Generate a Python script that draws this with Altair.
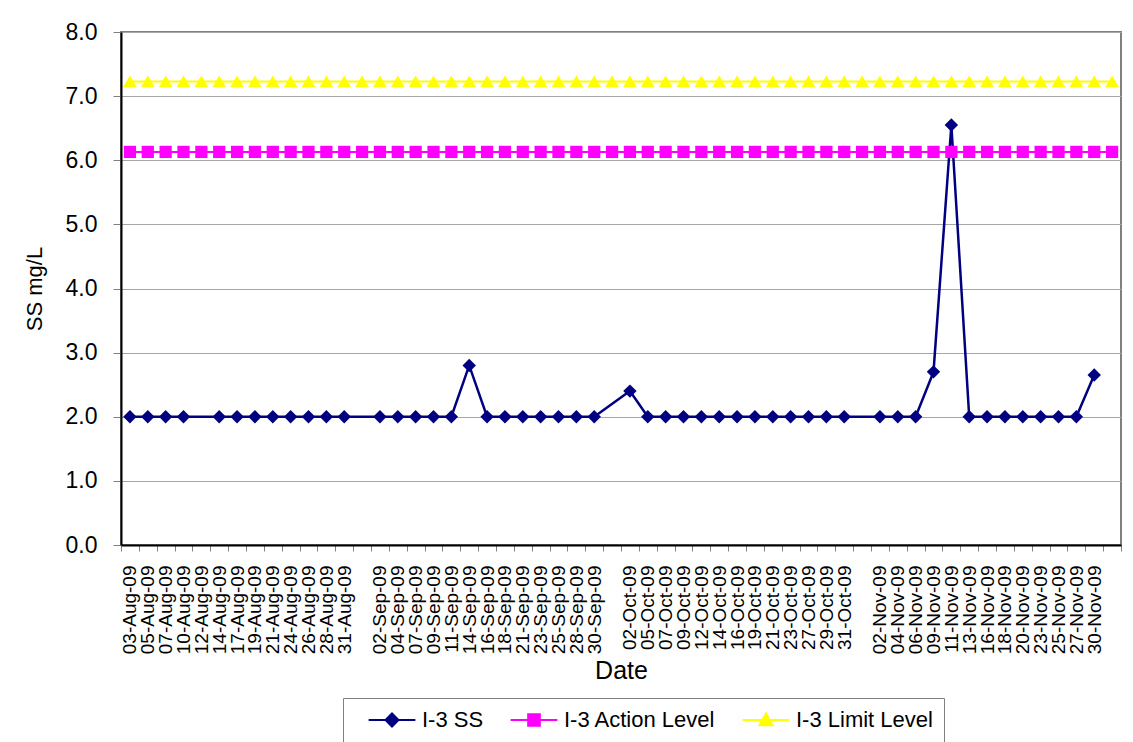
import json
import altair as alt
import pandas as pd

# ---------------- data ----------------
labels = [
    "03-Aug-09", "05-Aug-09", "07-Aug-09", "10-Aug-09", "12-Aug-09", "14-Aug-09", "17-Aug-09",
    "19-Aug-09", "21-Aug-09", "24-Aug-09", "26-Aug-09", "28-Aug-09", "31-Aug-09", "",
    "02-Sep-09", "04-Sep-09", "07-Sep-09", "09-Sep-09", "11-Sep-09", "14-Sep-09", "16-Sep-09",
    "18-Sep-09", "21-Sep-09", "23-Sep-09", "25-Sep-09", "28-Sep-09", "30-Sep-09", "",
    "02-Oct-09", "05-Oct-09", "07-Oct-09", "09-Oct-09", "12-Oct-09", "14-Oct-09", "16-Oct-09",
    "19-Oct-09", "21-Oct-09", "23-Oct-09", "27-Oct-09", "29-Oct-09", "31-Oct-09", "",
    "02-Nov-09", "04-Nov-09", "06-Nov-09", "09-Nov-09", "11-Nov-09", "13-Nov-09", "16-Nov-09",
    "18-Nov-09", "20-Nov-09", "23-Nov-09", "25-Nov-09", "27-Nov-09", "30-Nov-09", "",
]

ss_values = [
    2.0, 2.0, 2.0, 2.0, None, 2.0, 2.0, 2.0, 2.0, 2.0, 2.0, 2.0, 2.0, None,
    2.0, 2.0, 2.0, 2.0, 2.0, 2.8, 2.0, 2.0, 2.0, 2.0, 2.0, 2.0, 2.0, None,
    2.4, 2.0, 2.0, 2.0, 2.0, 2.0, 2.0, 2.0, 2.0, 2.0, 2.0, 2.0, 2.0, None,
    2.0, 2.0, 2.0, 2.7, 6.55, 2.0, 2.0, 2.0, 2.0, 2.0, 2.0, 2.0, 2.65, None,
]

action_level = [
    6.13, 6.13, 6.13, 6.13, 6.13, 6.13, 6.13, 6.13, 6.13, 6.13, 6.13, 6.13, 6.13, 6.13,
    6.13, 6.13, 6.13, 6.13, 6.13, 6.13, 6.13, 6.13, 6.13, 6.13, 6.13, 6.13, 6.13, 6.13,
    6.13, 6.13, 6.13, 6.13, 6.13, 6.13, 6.13, 6.13, 6.13, 6.13, 6.13, 6.13, 6.13, 6.13,
    6.13, 6.13, 6.13, 6.13, 6.13, 6.13, 6.13, 6.13, 6.13, 6.13, 6.13, 6.13, 6.13, 6.13,
]

limit_level = [
    7.23, 7.23, 7.23, 7.23, 7.23, 7.23, 7.23, 7.23, 7.23, 7.23, 7.23, 7.23, 7.23, 7.23,
    7.23, 7.23, 7.23, 7.23, 7.23, 7.23, 7.23, 7.23, 7.23, 7.23, 7.23, 7.23, 7.23, 7.23,
    7.23, 7.23, 7.23, 7.23, 7.23, 7.23, 7.23, 7.23, 7.23, 7.23, 7.23, 7.23, 7.23, 7.23,
    7.23, 7.23, 7.23, 7.23, 7.23, 7.23, 7.23, 7.23, 7.23, 7.23, 7.23, 7.23, 7.23, 7.23,
]

series_names = ["I-3 SS", "I-3 Action Level", "I-3 Limit Level"]
series_colors = ["#000080", "#FF00FF", "#FFFF00"]
y_ticks = [0, 1, 2, 3, 4, 5, 6, 7, 8]

# ---------------- styling ----------------
FONT = "Liberation Sans"
n = len(labels)

df = pd.DataFrame({
    "idx": list(range(n)),
    "label": labels,
    "ss": ss_values,
    "action": action_level,
    "limit": limit_level,
})
ss_df = df[df["ss"].notna()].reset_index(drop=True)

tick_vals = [i * 0.5 - 0.5 for i in range(2 * n + 1)]
label_expr = "datum.value % 1 === 0 ? " + json.dumps(labels) + "[datum.value] : ''"

x_axis = alt.Axis(
    values=tick_vals,
    labelExpr=label_expr,
    labelAngle=-90,
    labelOverlap=False,
    labelBound=False,
    labelFlush=False,
    labelFont=FONT,
    labelFontSize=19,
    labelColor="black",
    labelPadding=14,
    tickSize=6,
    tickColor="#808080",
    tickWidth=1,
    tickOpacity={"condition": {"test": "datum.value % 1 === 0", "value": 0}, "value": 1},
    domainColor="black",
    domainWidth=2,
    grid=False,
    title="Date",
    titleFont=FONT,
    titleFontSize=25,
    titleFontWeight="normal",
    titleColor="black",
    titlePadding=5,
)

y_axis = alt.Axis(
    values=y_ticks,
    format=".1f",
    labelFont=FONT,
    labelFontSize=23,
    labelColor="black",
    labelPadding=16,
    tickSize=8,
    tickColor="#808080",
    domainColor="black",
    domainWidth=2,
    grid=True,
    gridColor="#A6A6A6",
    gridWidth=1,
    title="SS mg/L",
    titleFont=FONT,
    titleFontSize=22,
    titleFontWeight="normal",
    titleColor="black",
    titlePadding=19,
)

x_scale = alt.Scale(domain=[-0.5, n - 0.5], nice=False, zero=False)
y_scale = alt.Scale(domain=[0, 8], nice=False, zero=True)


def xy(field):
    return dict(
        x=alt.X("idx:Q", scale=x_scale, axis=x_axis),
        y=alt.Y(field + ":Q", scale=y_scale, axis=y_axis),
    )


ss_line = alt.Chart(ss_df).mark_line(color=series_colors[0], strokeWidth=2.5).encode(**xy("ss"))
ss_pts = alt.Chart(ss_df).mark_point(
    shape="diamond", filled=True, size=180, color=series_colors[0], opacity=1
).encode(**xy("ss"))

act_line = alt.Chart(df).mark_line(color=series_colors[1], strokeWidth=2).encode(**xy("action"))
act_pts = alt.Chart(df).mark_point(
    shape="square", filled=True, size=150, color=series_colors[1], opacity=1
).encode(**xy("action"))

lim_line = alt.Chart(df).mark_line(color=series_colors[2], strokeWidth=2).encode(**xy("limit"))
lim_pts = alt.Chart(df).mark_point(
    shape="triangle-up", filled=True, size=190, color=series_colors[2], opacity=1
).encode(**xy("limit"))

# legend symbols: line with marker
legend_paths = [
    "M-3.6,0H3.6M0,-1L1,0L0,1L-1,0Z",
    "M-3.6,0H3.6M-0.9,-0.9H0.9V0.9H-0.9Z",
    "M-3.6,0H3.6M0,-1L1,0.8L-1,0.8Z",
]

leg = alt.Legend(
    title=None,
    orient="none",
    legendX=222,
    legendY=666,
    direction="horizontal",
    strokeColor="#808080",
    fillColor="white",
    padding=11,
    labelFont=FONT,
    labelFontSize=22,
    labelColor="black",
    symbolSize=169,
    symbolStrokeWidth=2,
    symbolOpacity=1,
    symbolOffset=27,
    labelOffset=19,
    columnPadding=12,
)

legend_df = pd.DataFrame({"series": series_names})
legend_layer = alt.Chart(legend_df).mark_point(filled=True, opacity=0).encode(
    fill=alt.Fill("series:N", scale=alt.Scale(domain=series_names, range=series_colors), legend=leg),
    stroke=alt.Stroke("series:N", scale=alt.Scale(domain=series_names, range=series_colors), legend=leg),
    shape=alt.Shape("series:N", scale=alt.Scale(domain=series_names, range=legend_paths), legend=leg),
)

chart = alt.layer(
    ss_line, ss_pts, act_line, act_pts, lim_line, lim_pts, legend_layer
).properties(
    width=1000,
    height=513,
    autosize=alt.AutoSizeParams(type="none"),
    padding={"left": 113, "top": 24, "right": 4, "bottom": 197},
    background="white",
).configure_view(
    stroke="#808080",
    strokeWidth=2,
)

chart.save("out.html", embed_options={"renderer": "svg", "actions": False})
